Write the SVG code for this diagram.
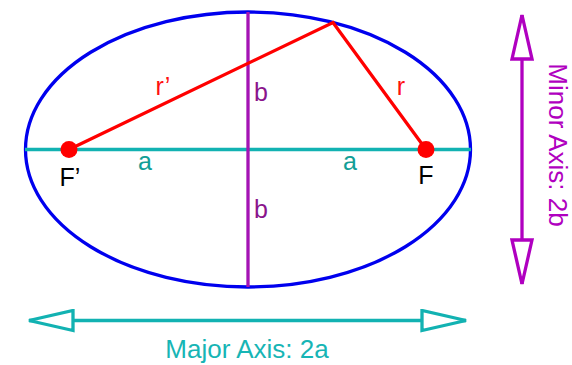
<svg xmlns="http://www.w3.org/2000/svg" width="572" height="365" viewBox="0 0 572 365">
<style>
text{font-family:"Liberation Sans",Arial,sans-serif;font-size:25px}
.teal{stroke:#12b2b2;stroke-width:3.3;fill:none}
.purp{stroke:#a413b4;stroke-width:3.3;fill:none}
.red{stroke:#ff0000;stroke-width:3.3;fill:none}
.lblA{fill:#129e96}
.lblB{fill:#8a148c}
.lblR{fill:#ff1010}
.lblF{fill:#000}
.big{font-size:26px}
</style>
<defs>
<marker id="tri-teal" viewBox="0 0 48 24" refX="46" refY="12" markerWidth="48" markerHeight="24" markerUnits="userSpaceOnUse" orient="auto-start-reverse">
<path d="M2,2 L46,12 L2,22 Z" fill="#fff" stroke="#12b2b2" stroke-width="3.3"/>
</marker>
<marker id="tri-purp" viewBox="0 0 48 24" refX="46" refY="12" markerWidth="48" markerHeight="24" markerUnits="userSpaceOnUse" orient="auto-start-reverse">
<path d="M2,2 L46,12 L2,22 Z" fill="#fff" stroke="#b000c0" stroke-width="3.3"/>
</marker>
</defs>
<g id="ellipse">
<ellipse cx="248" cy="149.5" rx="222.5" ry="137.5" fill="none" stroke="#0000ee" stroke-width="3.3"/>
</g>
<g id="connectors">
<line class="teal" x1="25" y1="149.5" x2="471" y2="149.5"/>
<line class="purp" x1="248" y1="12" x2="248" y2="287"/>
<polyline class="red" points="69,149.5 333,22.5 426,149.5"/>
<line class="teal" x1="29" y1="320.5" x2="466" y2="320.5" marker-start="url(#tri-teal)" marker-end="url(#tri-teal)"/>
<line x1="522" y1="15" x2="522" y2="284" stroke="#b000c0" stroke-width="3.3" marker-start="url(#tri-purp)" marker-end="url(#tri-purp)"/>
</g>
<g id="focus-left">
<circle cx="69" cy="149.5" r="8.5" fill="#ff0000"/>
<text class="lblF" x="70" y="186" text-anchor="middle">F’</text>
</g>
<g id="focus-right">
<circle cx="426" cy="149.5" r="8.5" fill="#ff0000"/>
<text class="lblF" x="426" y="184" text-anchor="middle">F</text>
</g>
<g id="labels">
<text class="lblR" x="163" y="95" text-anchor="middle">r’</text>
<text class="lblR" x="401" y="95" text-anchor="middle">r</text>
<text class="lblB" x="261" y="101" text-anchor="middle">b</text>
<text class="lblB" x="261" y="218" text-anchor="middle">b</text>
<text class="lblA" x="145" y="170" text-anchor="middle">a</text>
<text class="lblA" x="350" y="170" text-anchor="middle">a</text>
</g>
<g id="major-label">
<text class="big" x="247" y="358" text-anchor="middle" fill="#17b5b5">Major Axis: 2a</text>
</g>
<g id="minor-label">
<text class="big" transform="translate(549,145) rotate(90)" text-anchor="middle" fill="#b000c0">Minor Axis: 2b</text>
</g>
</svg>
